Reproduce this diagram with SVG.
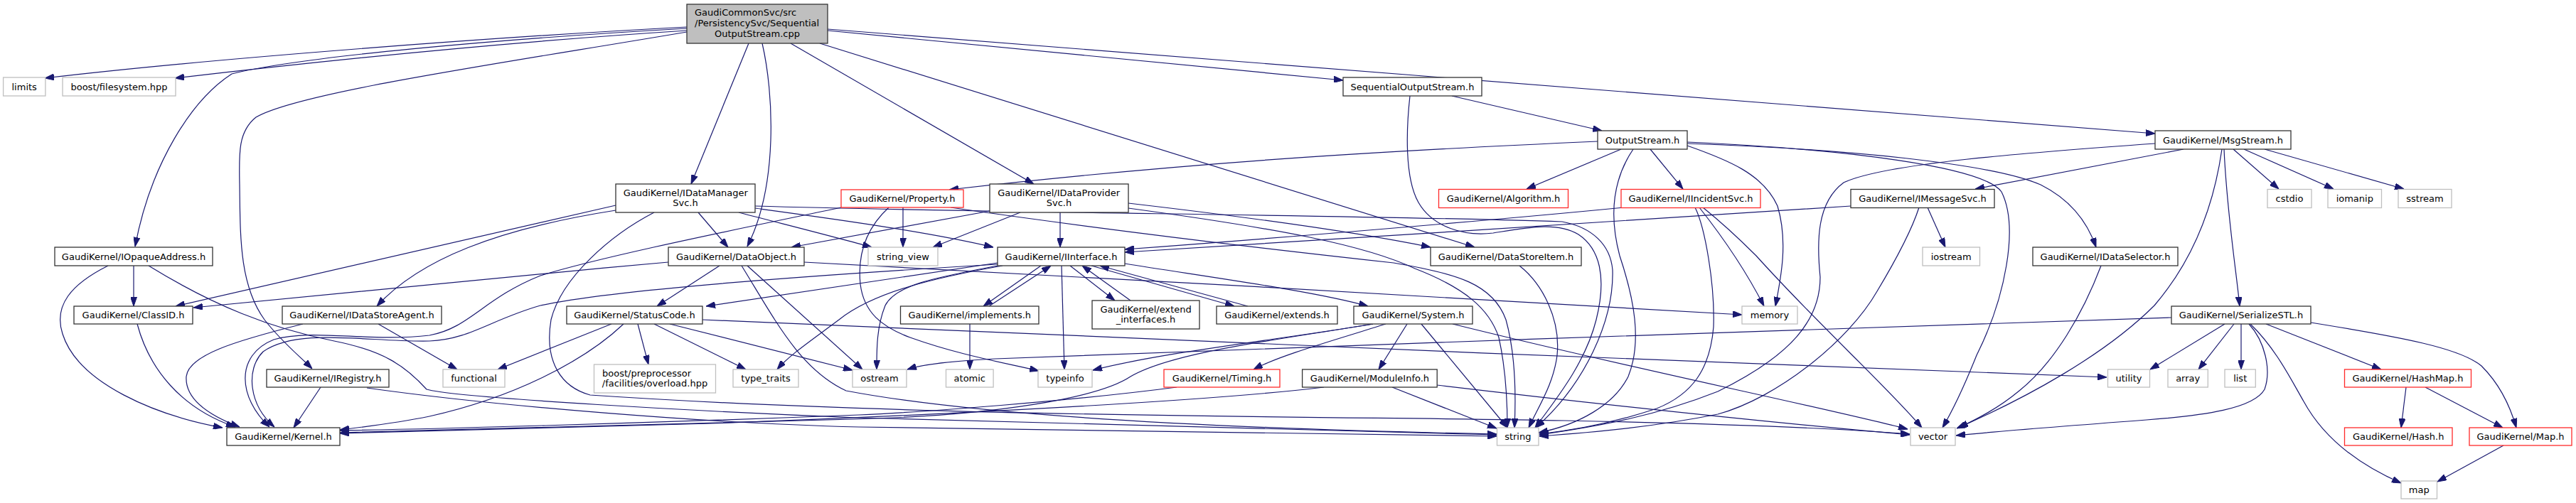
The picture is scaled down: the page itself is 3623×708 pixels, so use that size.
<svg xmlns="http://www.w3.org/2000/svg" width="3623" height="708" viewBox="0 0 3623 708">
<style>
rect{fill:#fff;stroke:#333;stroke-width:1.3}
rect.g{stroke:#bfbfbf}
rect.r{stroke:#ff2a2a}
rect.m{fill:#bfbfbf;stroke:#333}
text{font-family:"DejaVu Sans","Liberation Sans",sans-serif;font-size:13px;fill:#000;text-anchor:middle}
text.s{text-anchor:start}
#edges path{fill:none;stroke:#191970;stroke-width:1.2;marker-end:url(#a)}
</style>
<defs>
<marker id="a" markerWidth="13" markerHeight="9" refX="13" refY="4.5" orient="auto" markerUnits="userSpaceOnUse"><path d="M0,0 L13,4.5 L0,9 z" fill="#191970" stroke="#191970" stroke-width="1"/></marker>
</defs>
<rect x="0" y="0" width="3623" height="708" style="fill:#fff;stroke:none"/>
<g id="edges">
<path d="M966,38 C700,52 300,82 63,110"/>
<path d="M966,43 C700,60 450,86 246,110"/>
<path d="M966,40 C700,55 420,80 326,104 C270,140 212,230 190,347"/>
<path d="M966,45 C700,90 420,130 360,165 C335,185 336,215 337,260 C338,330 336,400 372,450 C395,480 420,500 439,519"/>
<path d="M1053,61 L972,259"/>
<path d="M1072,61 C1088,130 1095,260 1051,347"/>
<path d="M1112,61 L1454,259"/>
<path d="M1153,61 L2074,348"/>
<path d="M1164,43 L1889,113"/>
<path d="M1164,41 L3031,188"/>
<path d="M188,374 L188,431"/>
<path d="M152,374 C100,400 75,430 88,470 C110,540 220,585 313,602"/>
<path d="M209,374 C300,430 380,462 470,480 C540,494 570,515 600,548 C640,560 1000,580 1208,588 C1600,600 1900,608 2105,612"/>
<path d="M193,456 C210,520 255,575 331,601"/>
<path d="M451,545 L413,602"/>
<path d="M516,546 C700,572 1000,596 1208,601 C1600,608 1900,611 2105,614"/>
<path d="M426,456 C330,480 265,500 262,530 C260,562 295,585 337,601"/>
<path d="M532,456 L643,520"/>
<path d="M866,289 L247,431"/>
<path d="M866,296 C700,322 590,365 530,431"/>
<path d="M982,299 L1024,348"/>
<path d="M1062,293 C1150,305 1300,325 1397,348"/>
<path d="M1039,299 C1120,320 1180,335 1226,348"/>
<path d="M1062,290 C1400,300 1900,302 2197,312 C2240,320 2265,345 2268,380 C2270,450 2230,540 2160,602"/>
<path d="M920,299 C860,330 790,390 775,450 C765,510 790,545 830,556 C1300,588 1900,586 2200,592 C2450,597 2600,604 2686,611"/>
<path d="M1491,299 L1491,348"/>
<path d="M1435,299 L1312,348"/>
<path d="M1392,297 L1113,348"/>
<path d="M1587,286 C1750,305 1900,325 2012,348"/>
<path d="M1587,293 C1800,322 1920,345 1990,378 C2060,405 2095,435 2108,475 C2118,520 2120,565 2120,602"/>
<path d="M1270,292 L1270,348"/>
<path d="M1183,292 C1050,320 850,360 760,388 C680,420 660,462 604,472 C520,482 440,462 385,478 C330,500 335,560 379,601"/>
<path d="M1250,292 C1225,315 1205,350 1210,400 C1215,440 1240,460 1280,475 C1350,500 1410,510 1461,522"/>
<path d="M1337,292 C1600,330 1850,358 1960,370 C2050,385 2100,400 2118,450 C2132,500 2132,560 2130,602"/>
<path d="M1403,372 C1100,390 850,410 760,430 C690,450 660,478 604,480 C520,482 420,460 370,495 C345,520 350,570 386,601"/>
<path d="M1403,374 C1320,390 1260,400 1245,430 C1233,460 1233,490 1233,520"/>
<path d="M1464,374 L1383,431"/>
<path d="M1391,431 L1478,374"/>
<path d="M1364,456 L1364,520"/>
<path d="M1493,374 L1497,520"/>
<path d="M1505,374 L1568,423"/>
<path d="M1590,423 L1522,374"/>
<path d="M1535,374 L1736,431"/>
<path d="M1755,431 L1547,374"/>
<path d="M1582,371 C1700,390 1850,410 1924,431"/>
<path d="M1403,370 L993,431"/>
<path d="M1410,374 C1320,390 1230,410 1180,450 C1140,480 1110,500 1093,520"/>
<path d="M1931,456 C1800,478 1650,495 1590,530 C1545,560 1400,585 1200,590 C900,598 600,606 478,609"/>
<path d="M1931,456 C1800,478 1640,495 1537,521"/>
<path d="M1949,456 C1880,478 1800,500 1763,520"/>
<path d="M1979,456 L1939,520"/>
<path d="M1999,456 L2120,602"/>
<path d="M2043,456 C2300,520 2550,570 2683,604"/>
<path d="M1862,545 C1700,565 1300,585 1000,596 C750,603 550,607 478,610"/>
<path d="M1958,545 L2105,603"/>
<path d="M2021,542 C2300,575 2550,600 2686,612"/>
<path d="M1655,545 C1500,565 1300,580 1208,584 C900,596 600,604 478,606"/>
<path d="M860,456 L700,520"/>
<path d="M877,456 C820,510 720,560 604,586 C560,595 520,600 478,605"/>
<path d="M897,456 L912,513"/>
<path d="M920,456 L1049,520"/>
<path d="M942,456 L1199,521"/>
<path d="M988,450 C1400,470 2400,510 2963,531"/>
<path d="M1012,374 L924,431"/>
<path d="M940,369 C700,390 450,415 272,433"/>
<path d="M1043,374 C1090,450 1125,520 1190,550 C1400,590 1800,605 2105,611"/>
<path d="M1051,374 L1213,520"/>
<path d="M1131,369 C1500,390 2100,420 2450,443"/>
<path d="M2042,135 L2253,184"/>
<path d="M1983,135 C1978,180 1975,250 1995,285 C2015,320 2060,333 2100,328 C2150,320 2190,312 2220,330 C2250,350 2260,390 2245,450 C2230,510 2190,560 2159,602"/>
<path d="M2247,199 C2000,210 1700,225 1335,267"/>
<path d="M2280,210 L2147,266"/>
<path d="M2321,210 L2367,266"/>
<path d="M2297,210 C2270,250 2262,300 2278,360 C2298,420 2310,480 2290,530 C2270,570 2220,598 2164,609"/>
<path d="M2373,205 C2430,225 2480,245 2500,290 C2515,340 2505,390 2497,431"/>
<path d="M2373,200 C2600,210 2790,235 2815,270 C2840,320 2820,420 2780,500 C2760,550 2745,580 2732,602"/>
<path d="M2373,202 C2600,210 2800,230 2870,260 C2910,280 2935,310 2948,348"/>
<path d="M2284,292 C2100,310 1800,335 1582,351"/>
<path d="M2384,292 C2398,320 2412,400 2410,460 C2405,520 2380,555 2330,575 C2270,595 2220,605 2165,611"/>
<path d="M2390,292 C2420,330 2455,380 2481,431"/>
<path d="M2395,292 C2430,320 2455,345 2470,360 C2560,460 2650,540 2703,602"/>
<path d="M2603,290 C2300,310 1900,335 1582,355"/>
<path d="M2711,292 L2736,348"/>
<path d="M2699,292 C2690,320 2670,360 2640,410 C2600,480 2500,560 2416,583 C2330,600 2250,608 2165,614"/>
<path d="M3071,210 L2778,266"/>
<path d="M3031,202 C2850,215 2650,230 2593,257 C2555,285 2555,340 2560,390 C2560,450 2520,500 2416,551 C2330,585 2250,600 2165,612"/>
<path d="M3125,210 C3115,280 3090,360 3030,430 C2960,500 2850,560 2752,603"/>
<path d="M3128,210 C3132,300 3145,380 3150,431"/>
<path d="M3141,210 L3205,266"/>
<path d="M3156,210 L3282,266"/>
<path d="M3185,210 L3381,266"/>
<path d="M2955,374 C2930,440 2890,510 2840,550 C2810,575 2780,590 2755,602"/>
<path d="M3054,447 C2600,462 1900,485 1400,505 C1340,508 1300,512 1276,520"/>
<path d="M3129,456 L3024,520"/>
<path d="M3142,456 L3092,520"/>
<path d="M3152,456 L3152,520"/>
<path d="M3163,456 C3185,480 3195,520 3185,548 C3170,575 3100,585 3019,591 C2900,600 2800,608 2751,613"/>
<path d="M3165,456 C3200,490 3220,530 3240,565 C3270,620 3320,655 3377,680"/>
<path d="M3187,456 L3349,520"/>
<path d="M3250,454 C3380,475 3460,490 3490,515 C3515,540 3530,570 3539,602"/>
<path d="M3384,545 L3377,602"/>
<path d="M3411,545 L3520,602"/>
<path d="M3521,627 L3428,678"/>
<path d="M2137,374 C2170,400 2195,450 2190,500 C2185,540 2165,570 2150,602"/>
</g>
<g id="node-main"><rect class="m" x="966" y="6" width="198" height="55"/><text class="s" x="977" y="22">GaudiCommonSvc/src</text><text class="s" x="977" y="37">/PersistencySvc/Sequential</text><text x="1065" y="51.5">OutputStream.cpp</text></g>
<g id="node-limits"><rect class="g" x="4.6" y="109" width="59.3" height="26"/><text x="34.2" y="126.7">limits</text></g>
<g id="node-boostfs"><rect class="g" x="88" y="109" width="159" height="26"/><text x="167.5" y="126.7">boost/filesystem.hpp</text></g>
<g id="node-IOpaqueAddress"><rect x="77" y="348" width="222" height="26"/><text x="188" y="365.7">GaudiKernel/IOpaqueAddress.h</text></g>
<g id="node-ClassID"><rect x="104" y="431" width="167" height="25"/><text x="187.5" y="448.2">GaudiKernel/ClassID.h</text></g>
<g id="node-IDataStoreAgent"><rect x="397" y="431" width="224" height="25"/><text x="509" y="448.2">GaudiKernel/IDataStoreAgent.h</text></g>
<g id="node-IRegistry"><rect x="375" y="520" width="172" height="25"/><text x="461" y="537.2">GaudiKernel/IRegistry.h</text></g>
<g id="node-Kernel"><rect x="319" y="602" width="159" height="25"/><text x="398.5" y="619.2">GaudiKernel/Kernel.h</text></g>
<g id="node-IDataManagerSvc"><rect x="866" y="259" width="196" height="40"/><text class="s" x="876.7" y="275.5">GaudiKernel/IDataManager</text><text x="964" y="290">Svc.h</text></g>
<g id="node-DataObject"><rect x="940" y="348" width="191" height="26"/><text x="1035.5" y="365.7">GaudiKernel/DataObject.h</text></g>
<g id="node-Property"><rect class="r" x="1183" y="267" width="172" height="25"/><text x="1269" y="284.2">GaudiKernel/Property.h</text></g>
<g id="node-StatusCode"><rect x="797" y="431" width="191" height="25"/><text x="892.5" y="448.2">GaudiKernel/StatusCode.h</text></g>
<g id="node-functional"><rect class="g" x="623" y="520" width="87" height="25"/><text x="666.5" y="537.2">functional</text></g>
<g id="node-boostpp"><rect class="g" x="835.5" y="513" width="171" height="40"/><text class="s" x="847" y="529.5">boost/preprocessor</text><text x="921" y="544">/facilities/overload.hpp</text></g>
<g id="node-type_traits"><rect class="g" x="1031" y="520" width="92" height="25"/><text x="1077" y="537.2">type_traits</text></g>
<g id="node-ostream"><rect class="g" x="1199" y="520" width="76" height="25"/><text x="1237" y="537.2">ostream</text></g>
<g id="node-IDataProviderSvc"><rect x="1392" y="259" width="195" height="40"/><text class="s" x="1403.3" y="275.5">GaudiKernel/IDataProvider</text><text x="1489.5" y="290">Svc.h</text></g>
<g id="node-string_view"><rect class="g" x="1221" y="348" width="98" height="26"/><text x="1270" y="365.7">string_view</text></g>
<g id="node-IInterface"><rect x="1403" y="348" width="179" height="26"/><text x="1492.5" y="365.7">GaudiKernel/IInterface.h</text></g>
<g id="node-implements"><rect x="1266.5" y="431" width="194.5" height="25"/><text x="1363.8" y="448.2">GaudiKernel/implements.h</text></g>
<g id="node-extend_interfaces"><rect x="1536" y="423" width="151" height="40"/><text class="s" x="1547.4" y="439.5">GaudiKernel/extend</text><text x="1611.5" y="454">_interfaces.h</text></g>
<g id="node-extends"><rect x="1711" y="431" width="170" height="25"/><text x="1796" y="448.2">GaudiKernel/extends.h</text></g>
<g id="node-atomic"><rect class="g" x="1330.5" y="520" width="66.6" height="25"/><text x="1363.8" y="537.2">atomic</text></g>
<g id="node-typeinfo"><rect class="g" x="1460" y="520" width="76" height="25"/><text x="1498" y="537.2">typeinfo</text></g>
<g id="node-Timing"><rect class="r" x="1637" y="520" width="163" height="25"/><text x="1718.5" y="537.2">GaudiKernel/Timing.h</text></g>
<g id="node-SequentialOutputStream"><rect x="1889" y="109" width="195" height="26"/><text x="1986.5" y="126.7">SequentialOutputStream.h</text></g>
<g id="node-OutputStream"><rect x="2247" y="184" width="126" height="26"/><text x="2310" y="201.7">OutputStream.h</text></g>
<g id="node-Algorithm"><rect class="r" x="2023.5" y="266.5" width="182" height="26"/><text x="2114.5" y="284.2">GaudiKernel/Algorithm.h</text></g>
<g id="node-IIncidentSvc"><rect class="r" x="2280" y="266.5" width="196" height="26"/><text x="2378" y="284.2">GaudiKernel/IIncidentSvc.h</text></g>
<g id="node-DataStoreItem"><rect x="2012" y="348" width="212" height="26"/><text x="2118" y="365.7">GaudiKernel/DataStoreItem.h</text></g>
<g id="node-System"><rect x="1904" y="431" width="167" height="25"/><text x="1987.5" y="448.2">GaudiKernel/System.h</text></g>
<g id="node-ModuleInfo"><rect x="1831.6" y="520" width="189.6" height="25"/><text x="1926.4" y="537.2">GaudiKernel/ModuleInfo.h</text></g>
<g id="node-string"><rect class="g" x="2105.5" y="602" width="58.5" height="25"/><text x="2134.8" y="619.2">string</text></g>
<g id="node-IMessageSvc"><rect x="2603" y="266.5" width="202" height="26"/><text x="2704" y="284.2">GaudiKernel/IMessageSvc.h</text></g>
<g id="node-iostream"><rect class="g" x="2704" y="348" width="80.5" height="26"/><text x="2744.2" y="365.7">iostream</text></g>
<g id="node-IDataSelector"><rect x="2859" y="348" width="204" height="26"/><text x="2961" y="365.7">GaudiKernel/IDataSelector.h</text></g>
<g id="node-memory"><rect class="g" x="2450" y="431" width="78" height="25"/><text x="2489" y="448.2">memory</text></g>
<g id="node-vector"><rect class="g" x="2687" y="602" width="63" height="25"/><text x="2718.5" y="619.2">vector</text></g>
<g id="node-utility"><rect class="g" x="2964.5" y="520" width="59" height="25"/><text x="2994" y="537.2">utility</text></g>
<g id="node-MsgStream"><rect x="3031" y="184" width="191" height="26"/><text x="3126.5" y="201.7">GaudiKernel/MsgStream.h</text></g>
<g id="node-cstdio"><rect class="g" x="3189" y="266.5" width="62" height="26"/><text x="3220" y="284.2">cstdio</text></g>
<g id="node-iomanip"><rect class="g" x="3274" y="266.5" width="75.5" height="26"/><text x="3311.8" y="284.2">iomanip</text></g>
<g id="node-sstream"><rect class="g" x="3373" y="266.5" width="75" height="26"/><text x="3410.5" y="284.2">sstream</text></g>
<g id="node-SerializeSTL"><rect x="3054" y="431" width="196" height="25"/><text x="3152" y="448.2">GaudiKernel/SerializeSTL.h</text></g>
<g id="node-array"><rect class="g" x="3049" y="520" width="56.3" height="25"/><text x="3077.2" y="537.2">array</text></g>
<g id="node-list"><rect class="g" x="3129" y="520" width="43.3" height="25"/><text x="3150.7" y="537.2">list</text></g>
<g id="node-HashMap"><rect class="r" x="3297.5" y="520" width="178" height="25"/><text x="3386.5" y="537.2">GaudiKernel/HashMap.h</text></g>
<g id="node-Hash"><rect class="r" x="3297.5" y="602" width="151.5" height="25"/><text x="3373.2" y="619.2">GaudiKernel/Hash.h</text></g>
<g id="node-Map"><rect class="r" x="3473" y="602" width="144" height="25"/><text x="3545" y="619.2">GaudiKernel/Map.h</text></g>
<g id="node-map"><rect class="g" x="3377" y="677" width="50.5" height="25"/><text x="3402.2" y="694.2">map</text></g>
</svg>
